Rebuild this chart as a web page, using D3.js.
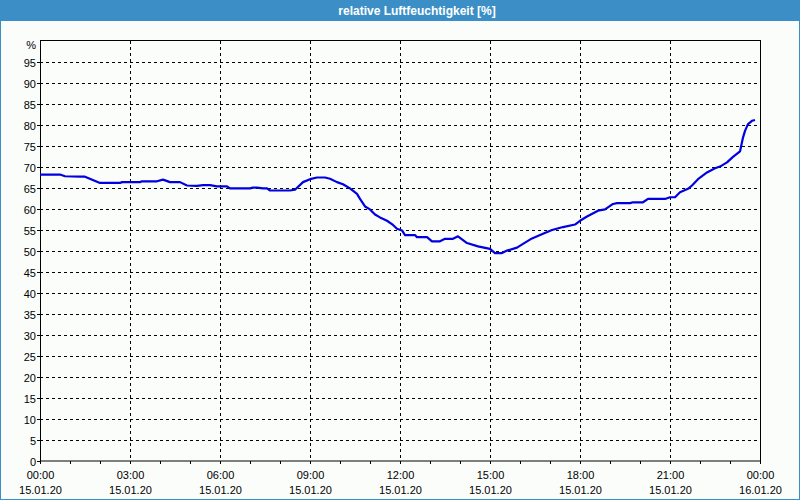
<!DOCTYPE html>
<html><head><meta charset="utf-8">
<script src="https://cdn.jsdelivr.net/npm/d3@7"></script>
<style>html,body{margin:0;padding:0;background:#fbfdfb;}svg{display:block;}</style>
</head><body>
<svg id="c" width="800" height="500"></svg>
<script>
const title = "relative Luftfeuchtigkeit [%]";
// minutes since 15.01.20 00:00
const minutes = [0,40,50,80,90,120,160,164,200,204,234,246,260,280,294,314,326,340,354,374,380,420,426,434,446,454,460,500,510,526,540,554,570,580,594,606,620,634,640,650,660,670,680,694,706,714,724,730,750,754,774,784,800,810,826,836,854,876,900,910,924,934,954,966,984,1006,1024,1046,1070,1080,1094,1116,1130,1146,1154,1180,1186,1206,1216,1250,1260,1270,1280,1296,1304,1316,1334,1350,1360,1374,1386,1400,1406,1410,1416,1424,1430];
const humidity = [68.2,68.2,67.8,67.7,67.7,66.2,66.2,66.4,66.4,66.6,66.6,67.0,66.4,66.4,65.6,65.5,65.7,65.7,65.4,65.4,64.9,64.9,65.1,65.1,64.9,64.9,64.4,64.4,64.6,66.4,67.1,67.5,67.5,67.2,66.4,65.9,64.9,63.6,62.4,60.6,59.9,58.7,58.0,57.2,56.2,55.3,54.9,53.8,53.8,53.3,53.3,52.3,52.3,52.9,52.9,53.5,51.9,51.1,50.5,49.5,49.5,50.1,50.8,51.7,53.0,54.1,55.0,55.7,56.3,57.2,58.2,59.6,59.9,61.2,61.4,61.4,61.6,61.6,62.4,62.4,62.8,62.8,64.0,64.8,65.6,67.1,68.7,69.7,70.1,71.1,72.4,73.7,77.0,78.6,80.2,81.0,81.2];
const yTicks = [0,5,10,15,20,25,30,35,40,45,50,55,60,65,70,75,80,85,90,95];
const xTimeLabels = ["00:00","03:00","06:00","09:00","12:00","15:00","18:00","21:00","00:00"];
const xDateLabels = ["15.01.20","15.01.20","15.01.20","15.01.20","15.01.20","15.01.20","15.01.20","15.01.20","16.01.20"];

const svg = d3.select("#c");
const L = 40, R = 760, T = 41, B = 461;
const t0 = new Date(2020,0,15,0,0);
const t1 = new Date(2020,0,16,0,0);
const x = d3.scaleTime().domain([t0,t1]).range([L,R]);
const y = d3.scaleLinear().domain([0,100]).range([B,T]);
const font = "'Liberation Sans', Arial, sans-serif";

svg.append("rect").attr("x",0).attr("y",0).attr("width",800).attr("height",500).attr("fill","#fbfdfb");
// outer border
svg.append("rect").attr("x",0.5).attr("y",0.5).attr("width",799).attr("height",499).attr("fill","none").attr("stroke","#3b8fc6");
// title bar
svg.append("rect").attr("x",0).attr("y",0).attr("width",800).attr("height",21).attr("fill","#3b8fc6");
svg.append("text").attr("x",417).attr("y",15).attr("text-anchor","middle").attr("fill","#fff")
  .attr("font-family",font).attr("font-weight","bold").attr("font-size","12px").text(title);

// horizontal grid
const g = svg.append("g");
g.selectAll("line.h").data(yTicks.filter(d=>d>0)).join("line")
  .attr("x1",L).attr("x2",R).attr("y1",d=>Math.round(y(d))+0.5).attr("y2",d=>Math.round(y(d))+0.5)
  .attr("stroke","#000").attr("stroke-dasharray","3,3");
// vertical grid
const hourTicks = d3.range(0,25).map(h=>d3.timeHour.offset(t0,h));
const majorTicks = d3.range(0,25,3).map(h=>d3.timeHour.offset(t0,h));
g.selectAll("line.v").data(majorTicks.slice(1,-1)).join("line")
  .attr("y1",T).attr("y2",B).attr("x1",d=>Math.round(x(d))+0.5).attr("x2",d=>Math.round(x(d))+0.5)
  .attr("stroke","#000").attr("stroke-dasharray","3,3");

// plot frame
svg.append("rect").attr("x",L+0.5).attr("y",T-0.5).attr("width",R-L).attr("height",B-T+0.5)
  .attr("fill","none").attr("stroke","#000");

// x axis ticks
svg.selectAll("line.xt").data(hourTicks).join("line")
  .attr("x1",d=>Math.round(x(d))+0.5).attr("x2",d=>Math.round(x(d))+0.5)
  .attr("y1",B).attr("y2",B+3).attr("stroke","#000");
// y axis ticks
svg.selectAll("line.yt").data(yTicks).join("line")
  .attr("x1",L-3).attr("x2",L).attr("y1",d=>Math.round(y(d))+0.5).attr("y2",d=>Math.round(y(d))+0.5).attr("stroke","#000");

// y labels
svg.selectAll("text.yl").data(yTicks).join("text")
  .attr("x",36).attr("y",d=>Math.round(y(d))+5)
  .attr("text-anchor","end").attr("font-family",font).attr("font-size","11px").attr("fill","#000").text(d=>d);
svg.append("text").attr("x",36).attr("y",49).attr("text-anchor","end").attr("font-family",font).attr("font-size","11px").text("%");

// x labels
svg.selectAll("text.xl").data(majorTicks).join("text")
  .attr("x",d=>x(d)+0.5).attr("y",479).attr("text-anchor","middle")
  .attr("font-family",font).attr("font-size","11px").text((d,i)=>xTimeLabels[i]);
svg.selectAll("text.xd").data(majorTicks).join("text")
  .attr("x",d=>x(d)+0.5).attr("y",494).attr("text-anchor","middle")
  .attr("font-family",font).attr("font-size","11px").text((d,i)=>xDateLabels[i]);

// line
const data = minutes.map((m,i)=>({t:d3.timeMinute.offset(t0,m), v:humidity[i]}));
svg.append("path").datum(data)
  .attr("fill","none").attr("stroke","#0000e0").attr("stroke-width",2.2).attr("stroke-linejoin","round")
  .attr("d", d3.line().x(d=>x(d.t)).y(d=>y(d.v)));
</script>
</body></html>
